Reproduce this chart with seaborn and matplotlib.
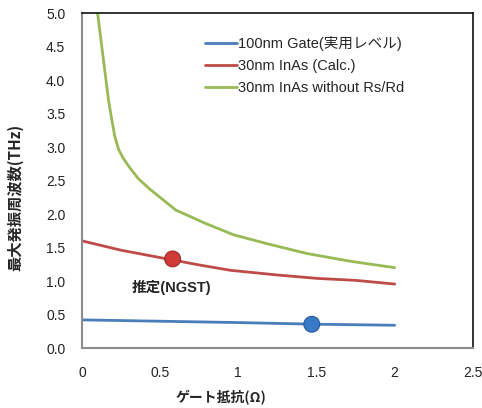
import matplotlib
matplotlib.use("Agg")
import matplotlib.pyplot as plt
import seaborn as sns
import pandas as pd

sns.set_style("white")
plt.rcParams['font.family'] = ['Liberation Sans', 'Noto Sans CJK JP', 'DejaVu Sans']

series_names = ["100nm Gate(実用レベル)", "30nm InAs (Calc.)", "30nm InAs without Rs/Rd"]
colors = ["#4a7ebb", "#be4b48", "#98b954"]

blue_x = [0.0, 0.5, 1.0, 1.5, 2.0]
blue_y = [0.42, 0.40, 0.38, 0.355, 0.34]

red_x = [0.0, 0.25, 0.5, 0.75, 0.95, 1.25, 1.5, 1.75, 2.0]
red_y = [1.60, 1.46, 1.35, 1.24, 1.16, 1.09, 1.04, 1.01, 0.955]

green_x = [0.1, 0.17, 0.19, 0.21, 0.235, 0.265, 0.3, 0.36, 0.43, 0.6, 0.79, 0.97, 1.18, 1.44, 1.73, 2.0]
green_y = [5.0, 3.70, 3.42, 3.16, 2.96, 2.83, 2.71, 2.53, 2.38, 2.06, 1.86, 1.69, 1.56, 1.41, 1.29, 1.20]

marker_x = [1.47, 0.58]
marker_y = [0.355, 1.33]
marker_colors = ["#3a78c8", "#d03b38"]

annot_text = "推定(NGST)"
annot_x, annot_y = 0.32, 0.91

x_ticks = [0, 0.5, 1, 1.5, 2, 2.5]
x_tick_labels = ["0", "0.5", "1", "1.5", "2", "2.5"]
y_ticks = [0.0, 0.5, 1.0, 1.5, 2.0, 2.5, 3.0, 3.5, 4.0, 4.5, 5.0]

df = pd.concat([
    pd.DataFrame({"x": blue_x, "y": blue_y, "s": series_names[0]}),
    pd.DataFrame({"x": red_x, "y": red_y, "s": series_names[1]}),
    pd.DataFrame({"x": green_x, "y": green_y, "s": series_names[2]}),
])

fig = plt.figure(figsize=(4.82, 4.08), dpi=100)
ax = fig.add_axes([0.170, 0.147, 0.811, 0.821])

sns.lineplot(data=df, x="x", y="y", hue="s", palette=colors, hue_order=series_names,
             linewidth=2.0, ax=ax, sort=False, estimator=None)
ax.scatter(marker_x, marker_y, s=130, c=marker_colors, edgecolors=["#2a5a9a", "#9a2a28"],
           linewidths=0.8, zorder=5)

ax.text(annot_x, annot_y, annot_text, fontsize=10.5, fontweight="bold",
        family=['Liberation Sans', 'Noto Sans CJK JP'], va="center", ha="left")

ax.set_xlim(0, 2.5)
ax.set_ylim(0, 5.0)
ax.set_xticks(x_ticks)
ax.set_xticklabels(x_tick_labels)
ax.set_yticks(y_ticks)
ax.set_yticklabels([f"{v:.1f}" for v in y_ticks])
ax.tick_params(axis="both", labelsize=10, colors="#888888", labelcolor="#222222",
               direction="out", length=4, width=1.2, pad=8)
ax.tick_params(axis="x", pad=9)

for side in ["left", "bottom"]:
    ax.spines[side].set_color("#8c8c8c")
    ax.spines[side].set_linewidth(1.5)
for side in ["top", "right"]:
    ax.spines[side].set_color("#111111")
    ax.spines[side].set_linewidth(1.2)

ax.set_xlabel("ゲート抵抗(Ω)", fontsize=10, fontweight="bold",
              family=['Noto Sans CJK JP', 'DejaVu Sans'])
ax.xaxis.set_label_coords(0.355, -0.125)
ax.set_ylabel("最大発振周波数(THz)", fontsize=11, fontweight="bold",
              family=['Noto Sans CJK JP', 'DejaVu Sans'])
ax.yaxis.set_label_coords(-0.15, 0.45)

leg = ax.legend(loc="upper left", bbox_to_anchor=(0.28, 0.97), frameon=False,
                fontsize=10.5, handlelength=2.2, handletextpad=0.1, labelspacing=0.55)
for t in leg.get_texts():
    t.set_family(['Liberation Sans', 'Noto Sans CJK JP'])

fig.savefig("out.png", dpi=100)
